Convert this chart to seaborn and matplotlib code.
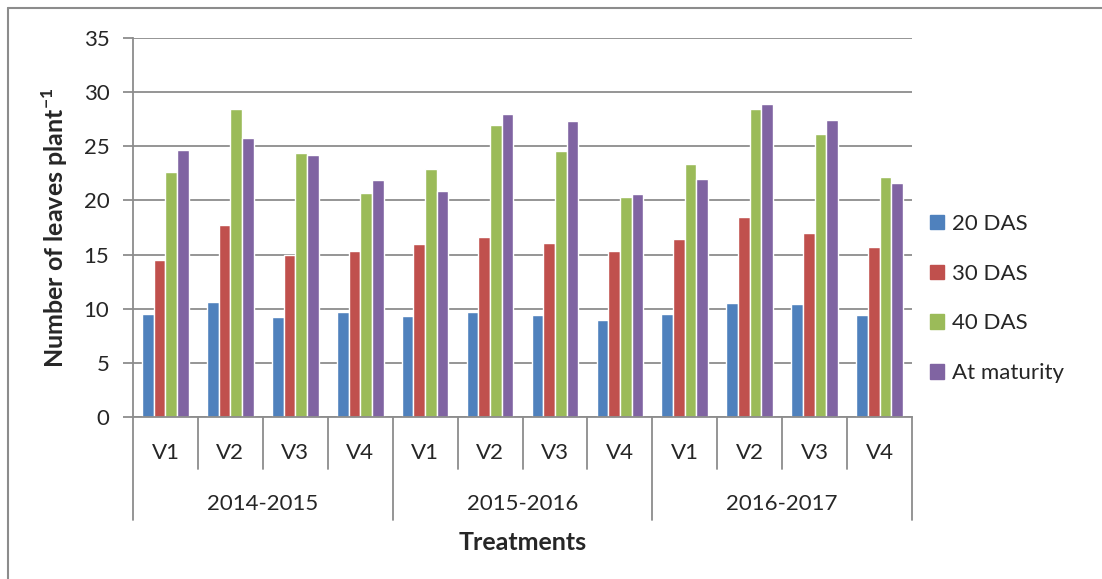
import numpy as np
import pandas as pd
import matplotlib
matplotlib.use('Agg')
import matplotlib.pyplot as plt
import seaborn as sns
from matplotlib.patches import Rectangle
from matplotlib.lines import Line2D
from matplotlib.transforms import blended_transform_factory

# data
seasons = ['2014-2015', '2015-2016', '2016-2017']
varieties = ['V1', 'V2', 'V3', 'V4']
stages = ['20 DAS', '30 DAS', '40 DAS', 'At maturity']

das20 = [9.5, 10.6, 9.2, 9.7, 9.3, 9.7, 9.4, 9.0, 9.5, 10.5, 10.4, 9.4]
das30 = [14.5, 17.7, 15.0, 15.3, 16.0, 16.6, 16.1, 15.3, 16.4, 18.5, 17.0, 15.7]
das40 = [22.6, 28.4, 24.4, 20.7, 22.9, 27.0, 24.6, 20.3, 23.4, 28.4, 26.1, 22.2]
maturity = [24.7, 25.8, 24.2, 21.9, 20.9, 28.0, 27.3, 20.6, 22.0, 28.9, 27.4, 21.6]

colors = ['#4F81BD', '#C0504D', '#9BBB59', '#8064A2']
grey = '#8C8C8C'

treatments = [s + ' ' + v for s in seasons for v in varieties]
df = pd.DataFrame({
    'treatment': treatments * 4,
    'stage': np.repeat(stages, len(treatments)),
    'value': das20 + das30 + das40 + maturity,
})

sns.set_theme(style='white')
plt.rcParams['font.family'] = ['Lato', 'DejaVu Sans']
plt.rcParams['mathtext.fontset'] = 'custom'
plt.rcParams['mathtext.rm'] = 'Lato'
plt.rcParams['mathtext.bf'] = 'Lato:bold'

fig = plt.figure(figsize=(11.02, 5.79), dpi=100)
ax = fig.add_axes([133 / 1102, 1 - 417 / 579, 779 / 1102, 379 / 579])

sns.barplot(data=df, x='treatment', y='value', hue='stage', order=treatments,
            hue_order=stages, palette=colors, saturation=1, width=0.72,
            ax=ax, legend=False)

ax.set_xlim(-0.5, len(treatments) - 0.5)
ax.set_ylim(0, 35)
ax.set_yticks(range(0, 36, 5))
ax.yaxis.grid(True, color=grey, lw=1.3)
ax.set_axisbelow(True)
for side in ['top', 'right']:
    ax.spines[side].set_visible(False)
for side in ['left', 'bottom']:
    ax.spines[side].set_color(grey)
    ax.spines[side].set_linewidth(1.3)

ax.tick_params(axis='y', direction='out', length=7, width=1.3, color=grey,
               left=True, labelsize=16, pad=10)
ax.set_xticks(range(len(treatments)))
ax.set_xticklabels(varieties * len(seasons))
ax.tick_params(axis='x', length=0, labelsize=16, pad=19)
ax.set_xlabel('')
ax.set_ylabel('')

# category separators below the axis
trans = blended_transform_factory(ax.transData, ax.transAxes)
for i in range(len(treatments) + 1):
    x = i - 0.5
    low = -0.272 if i % 4 == 0 else -0.137
    ax.plot([x, x], [0, low], color=grey, lw=1.3, transform=trans, clip_on=False)

for j, s in enumerate(seasons):
    ax.text(j * 4 + 1.5, -0.23, s, transform=trans, ha='center', va='center',
            fontsize=16)

ax.text(0.5, -0.332, 'Treatments', transform=ax.transAxes, ha='center',
        va='center', fontsize=18, fontweight='bold')
ax.text(-0.1, 0.5, r'Number of leaves plant$^{\mathbf{-1}}$',
        transform=ax.transAxes, ha='center', va='center', rotation=90,
        fontsize=18, fontweight='bold')

handles = [Rectangle((0, 0), 1, 1, color=c) for c in colors]
fig.legend(handles, stages, loc='center left',
           bbox_to_anchor=(910 / 1102, 1 - 298.5 / 579), frameon=False,
           fontsize=16, handlelength=0.63, handleheight=0.63,
           handletextpad=0.35, labelspacing=1.34)

# frame only shows on the left and top edges
fig.add_artist(Line2D([8 / 1102, 8 / 1102], [0, 1 - 8 / 579],
                      transform=fig.transFigure, color=grey, lw=1.5))
fig.add_artist(Line2D([8 / 1102, 1], [1 - 8 / 579, 1 - 8 / 579],
                      transform=fig.transFigure, color=grey, lw=1.5))

fig.savefig('out.png', dpi=100)
